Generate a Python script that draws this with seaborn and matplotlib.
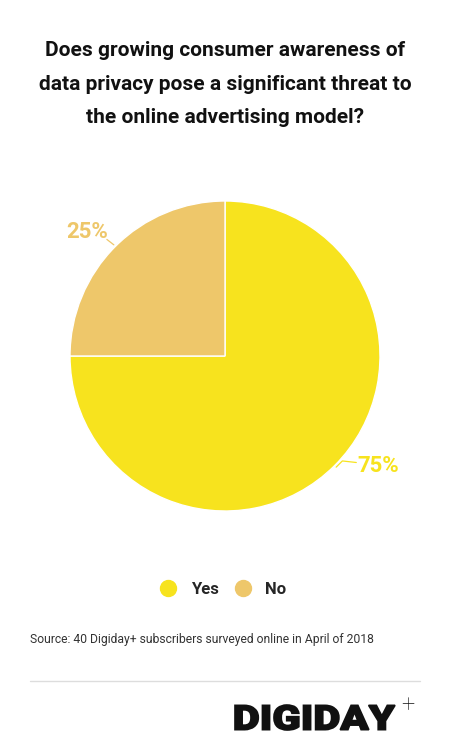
import numpy as np
import pandas as pd
import matplotlib.pyplot as plt
from matplotlib.lines import Line2D
from matplotlib.textpath import TextPath
from matplotlib.patches import PathPatch
from matplotlib.font_manager import FontProperties
from matplotlib.transforms import Affine2D
import seaborn as sns

#DATA
answers = ["Yes", "No"]
shares = [75, 25]
share_labels = ["75%", "25%"]
colors_ = ["#F7E31E", "#EEC76A"]

sns.set_theme(style="white")
plt.rcParams['font.family'] = ['Roboto', 'DejaVu Sans']

W, H = 450, 752
fig = plt.figure(figsize=(W / 100, H / 100), dpi=100)
fig.patch.set_facecolor("white")

def fx(px):
    return px / W

def fy(py):
    return 1 - py / H

#TITLE
fig.text(0.5, fy(84), "Does growing consumer awareness of\ndata privacy pose a significant threat to\nthe online advertising model?",
         ha="center", va="center", fontsize=15.0, fontweight="bold", color="#111111", linespacing=1.95)

#PIE
cx, cy, r = 225, 356, 155
ax = fig.add_axes([fx(cx - r), fy(cy + r), (2 * r) / W, (2 * r) / H])
wedges, _ = ax.pie(shares, colors=colors_, startangle=90, counterclock=False,
                   wedgeprops=dict(edgecolor="white", linewidth=1), radius=1)
ax.set_xlim(-1, 1)
ax.set_ylim(-1, 1)
ax.set_aspect("equal")
ax.axis("off")

#LABELS with short leader lines
mid_no = np.radians(135)
ex, ey = np.cos(mid_no), np.sin(mid_no)
ax.plot([ex - 0.01, ex - 0.055], [ey + 0.01, ey + 0.045], color=colors_[1], lw=0.9)
ax.text(ex - 0.05, ey + 0.09, share_labels[1], ha="right", va="center",
        fontsize=16, fontweight="bold", color=colors_[1])

mid_yes = np.radians(-45)
ex, ey = np.cos(mid_yes), np.sin(mid_yes)
ax.plot([ex + 0.01, ex + 0.05, ex + 0.14], [ey - 0.01, ey + 0.03, ey + 0.02],
        color=colors_[0], lw=0.9)
ax.text(ex + 0.15, ey - 0.005, share_labels[0], ha="left", va="center",
        fontsize=16, fontweight="bold", color=colors_[0])

#LEGEND
handles = [Line2D([0], [0], marker="o", linestyle="", markersize=11.5, markerfacecolor=c,
                  markeredgecolor=c) for c in colors_]
fig.legend(handles, answers, loc="center", bbox_to_anchor=(fx(219), fy(589)), ncol=2,
           frameon=False, prop=dict(weight="bold", size=12), handletextpad=0.35,
           columnspacing=0.45)

#SOURCE
fig.text(fx(30), fy(640), "Source: 40 Digiday+ subscribers surveyed online in April of 2018",
         ha="left", va="center", fontsize=8.75, color="#333333")

#RULE
fig.add_artist(Line2D([fx(30), fx(420)], [fy(681), fy(681)], color="#dddddd", lw=1))

#LOGO (stretched heavy text)
tp = TextPath((0, 0), "DIGIDAY", size=100, prop=FontProperties(family="Roboto", weight="black"))
bb = tp.get_extents()
x0, x1, ytop, ybot = 235, 395, 705, 730
sx = (x1 - x0) / bb.width
sy = (ybot - ytop) / bb.height
tr = Affine2D().translate(-bb.x0, -bb.y0).scale(sx, sy).translate(x0, H - ybot)
logo = PathPatch(tr.transform_path(tp), facecolor="#111111", edgecolor="#111111", lw=1.2,
                 transform=None)
fig.add_artist(logo)
fig.text(fx(401), fy(705), "+", ha="left", va="center", fontsize=17,
         fontweight="light", color="#111111")

fig.savefig("out.png", dpi=100)
